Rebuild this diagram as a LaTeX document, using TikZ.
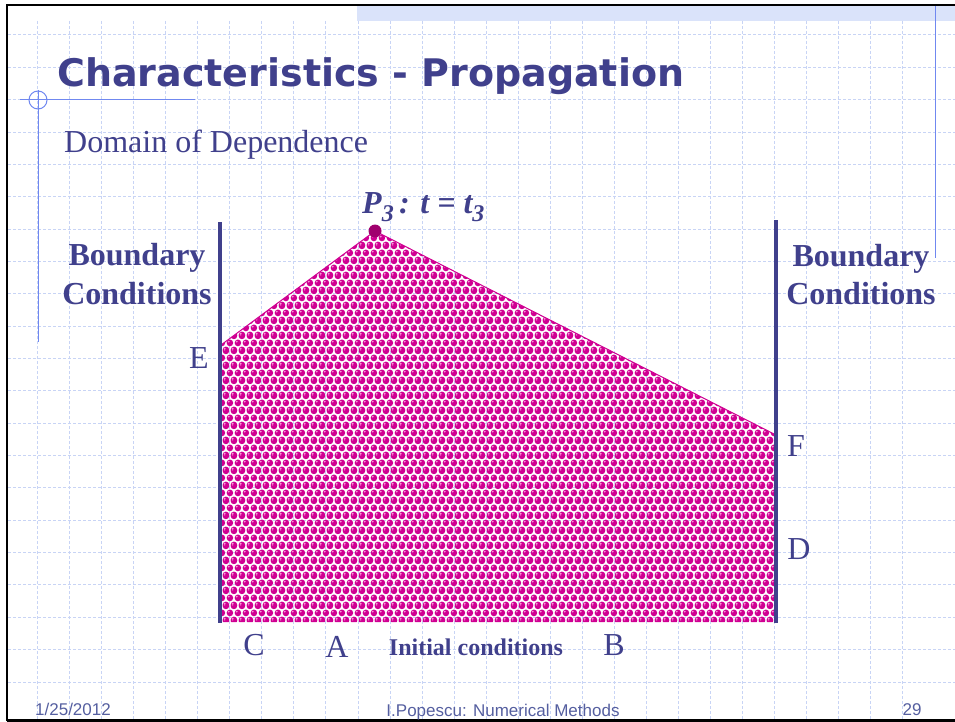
\documentclass[tikz,border=0pt]{standalone}
\usepackage{fontspec}
\setmainfont{Liberation Serif}
\newfontfamily\titlefont{DejaVu Sans}
\newfontfamily\footfont{Liberation Sans}
\usetikzlibrary{patterns}
\definecolor{tblue}{RGB}{64,64,140}
\definecolor{footblue}{RGB}{85,95,160}
\definecolor{gridblue}{RGB}{200,212,245}
\definecolor{decoblue}{RGB}{112,136,240}
\definecolor{bandblue}{RGB}{218,227,250}
\definecolor{ballmag}{RGB}{208,0,146}
\definecolor{ballhi}{RGB}{245,150,215}
\definecolor{apexmag}{RGB}{160,0,110}
\pgfdeclarepatternformonly{balls}{\pgfqpoint{0pt}{0pt}}{\pgfqpoint{8.4pt}{14.6pt}}{\pgfqpoint{8.4pt}{14.6pt}}{%
  \pgfpathcircle{\pgfqpoint{0pt}{0pt}}{3.5pt}%
  \pgfpathcircle{\pgfqpoint{8.4pt}{0pt}}{3.5pt}%
  \pgfpathcircle{\pgfqpoint{0pt}{14.6pt}}{3.5pt}%
  \pgfpathcircle{\pgfqpoint{8.4pt}{14.6pt}}{3.5pt}%
  \pgfpathcircle{\pgfqpoint{4.2pt}{7.3pt}}{3.5pt}%
  \pgfusepath{fill}}
\pgfdeclarepatternformonly{ballhl}{\pgfqpoint{0pt}{0pt}}{\pgfqpoint{8.4pt}{14.6pt}}{\pgfqpoint{8.4pt}{14.6pt}}{%
  \pgfpathcircle{\pgfqpoint{-1.2pt}{1.3pt}}{1.1pt}%
  \pgfpathcircle{\pgfqpoint{7.2pt}{1.3pt}}{1.1pt}%
  \pgfpathcircle{\pgfqpoint{-1.2pt}{15.9pt}}{1.1pt}%
  \pgfpathcircle{\pgfqpoint{7.2pt}{15.9pt}}{1.1pt}%
  \pgfpathcircle{\pgfqpoint{3.0pt}{8.6pt}}{1.1pt}%
  \pgfusepath{fill}}
\tikzset{
  gridline/.style={gridblue, line width=1pt, dash pattern=on 3pt off 2pt},
  deco/.style={decoblue, line width=1pt},
  frameline/.style={black, line width=2.5pt},
  bcline/.style={tblue, line width=3.5pt},
  lbl/.style={text=tblue, inner sep=0pt, anchor=base, font=\fontsize{32}{36}\selectfont},
  bclbl/.style={text=tblue, inner sep=0pt, anchor=base, font=\bfseries\fontsize{32}{36}\selectfont},
  foot/.style={text=footblue, inner sep=0pt, anchor=base, font=\footfont\fontsize{17}{18}\selectfont}
}
\begin{document}
\begin{tikzpicture}[x=1pt, y=-1pt]
\useasboundingbox (0,0) rectangle (955,722);
\fill[white] (0,0) rectangle (955,722);
% top band
\fill[bandblue] (357,6) rectangle (955,21);
% grid
\foreach \k in {0,...,27} \draw[gridline] ({37.5+32.05*\k},21) -- ({37.5+32.05*\k},719);
\foreach \k in {0,...,20} \draw[gridline] (8,{35+32.35*\k}) -- (955,{35+32.35*\k});
% frame
\draw[frameline] (7,721) -- (7,5) -- (956,5);
\draw[frameline] (7,720.5) -- (956,720.5);
% decorations
\draw[deco] (38,90) -- (38,342);
\draw[deco] (20,100) -- (195,100);
\draw[deco] (38,100) circle[radius=9];
\draw[deco] (935,6) -- (935,258);
% title
\node[anchor=base west, inner sep=0pt, text=tblue, font=\titlefont\bfseries\fontsize{38}{40}\selectfont] (title) at (57,87) {Characteristics - Propagation};
\node[anchor=base west, inner sep=0pt, text=tblue, font=\fontsize{32}{36}\selectfont] (dom) at (64,153) {Domain of Dependence};
% geometry
\coordinate (C0) at (221,622);
\coordinate (E0) at (221,345);
\coordinate (P0) at (375,231);
\coordinate (F0) at (776,435);
\coordinate (D0) at (776,622);
\coordinate (Ltop) at (220,222);
\coordinate (Lbot) at (220,623);
\coordinate (Rtop) at (776,220);
\coordinate (Rbot) at (776,623);
\fill[pattern=balls, pattern color=ballmag] (C0) -- (E0) -- (P0) -- (F0) -- (D0) -- cycle;
\fill[pattern=ballhl, pattern color=ballhi] (C0) -- (E0) -- (P0) -- (F0) -- (D0) -- cycle;
\draw[ballmag, line width=1pt] (E0) -- (P0) -- (F0);
\draw[bcline] (Ltop) -- (Lbot);
\draw[bcline] (Rtop) -- (Rbot);
\node[circle, fill=apexmag, inner sep=0pt, minimum size=13pt] (apex) at (375,231) {};
% labels
\node[anchor=base west, inner sep=0pt, text=tblue, font=\bfseries\itshape\fontsize{32}{36}\selectfont] (p3) at (362,214)
  {P\raisebox{-7pt}{\fontsize{24}{24}\selectfont 3}\,: t = t\raisebox{-7pt}{\fontsize{24}{24}\selectfont 3}};
\node[bclbl] (bl1) at (137,265) {Boundary};
\node[bclbl] (bl2) at (137,304) {Conditions};
\node[bclbl] (br1) at (861,266) {Boundary};
\node[bclbl] (br2) at (861,304) {Conditions};
\node[lbl] (E) at (199,368) {E};
\node[lbl] (F) at (796,456) {F};
\node[lbl] (D) at (799,559) {D};
\node[lbl] (C) at (254,655) {C};
\node[lbl] (A) at (337,657) {A};
\node[lbl] (B) at (614,655) {B};
\node[text=tblue, inner sep=0pt, anchor=base, font=\bfseries\fontsize{24}{28}\selectfont] (ic) at (476,655) {Initial conditions};
% footer
\node[foot] (date) at (73,715) {1/25/2012};
\node[foot] (auth) at (503,716) {I.Popescu: Numerical Methods};
\node[foot] (pg) at (912,715) {29};
\end{tikzpicture}
\end{document}
